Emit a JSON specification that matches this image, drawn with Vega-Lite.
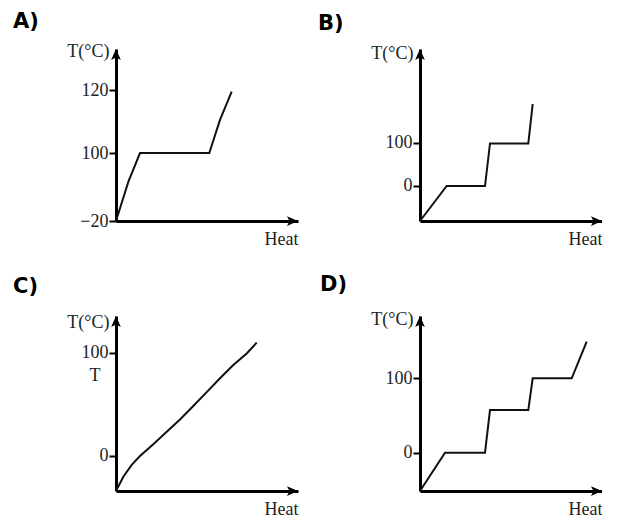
{
  "$schema": "https://vega.github.io/schema/vega-lite/v6.json",
  "padding": {"left": 13, "top": 11, "right": 0, "bottom": 0},
  "background": "white",
  "config": {
    "view": {"stroke": null},
    "font": "Liberation Serif",
    "axis": {
      "grid": false,
      "domainColor": "#000",
      "domainWidth": 3,
      "tickColor": "#000",
      "tickWidth": 2,
      "tickSize": 7,
      "labelFont": "Liberation Serif",
      "labelFontSize": 18,
      "labelColor": "#222",
      "labelPadding": 1,
      "titleFont": "Liberation Serif",
      "titleFontSize": 18,
      "titleFontWeight": "normal",
      "titleColor": "#222"
    },
    "title": {"font": "DejaVu Sans", "fontSize": 21, "fontWeight": "bold", "color": "#000", "anchor": "start", "frame": "group", "baseline": "alphabetic"}
  },
  "columns": 2,
  "spacing": {"row": 95, "column": 122},
  "bounds": "flush",
  "concat": [
    {
      "width": 182, "height": 172,
      "title": {"text": "A)", "dx": -103, "offset": 10},
      "layer": [
        {
          "data": {"values": [
            {"Heat": 0, "T": -20}, {"Heat": 12.3, "T": 49}, {"Heat": 24, "T": 100},
            {"Heat": 93.3, "T": 100}, {"Heat": 104, "T": 110.5}, {"Heat": 115.7, "T": 119.5}
          ]},
          "mark": {"type": "line", "color": "#111", "strokeWidth": 2},
          "encoding": {
            "x": {"field": "Heat", "type": "quantitative", "scale": {"domain": [0, 182], "nice": false, "zero": false},
                  "axis": {"ticks": false, "labels": false, "title": "Heat", "titleX": 182, "titleY": 23, "titleAlign": "right", "titleBaseline": "alphabetic"}},
            "y": {"field": "T", "type": "quantitative", "scale": {"domain": [-20, 100, 120, 133], "range": [172, 104, 41, 0], "nice": false, "zero": false},
                  "axis": {"values": [-20, 100, 120], "title": "T(°C)", "titleAngle": 0, "titleX": -7, "titleY": 7, "titleAlign": "right", "titleBaseline": "alphabetic"}}
          }
        },
        {
          "data": {"values": [{"Heat": 0, "T": 133}]},
          "mark": {"type": "point", "shape": "M0,-1L0.75,0.7L0,0.3L-0.75,0.7Z", "filled": true, "size": 169, "color": "#000", "opacity": 1, "yOffset": 6.5},
          "encoding": {"x": {"field": "Heat", "type": "quantitative"}, "y": {"field": "T", "type": "quantitative"}}
        },
        {
          "data": {"values": [{"Heat": 182, "T": -20}]},
          "mark": {"type": "point", "shape": "M1,0L-0.7,0.75L-0.3,0L-0.7,-0.75Z", "filled": true, "size": 169, "color": "#000", "opacity": 1, "xOffset": -6.5},
          "encoding": {"x": {"field": "Heat", "type": "quantitative"}, "y": {"field": "T", "type": "quantitative"}}
        }
      ]
    },
    {
      "width": 182, "height": 172,
      "title": {"text": "B)", "dx": -102, "offset": 10},
      "layer": [
        {
          "data": {"values": [
            {"Heat": 0, "T": -81.4}, {"Heat": 26.7, "T": 0}, {"Heat": 65, "T": 0},
            {"Heat": 70, "T": 99}, {"Heat": 108.3, "T": 99}, {"Heat": 112.7, "T": 190.7}
          ]},
          "mark": {"type": "line", "color": "#111", "strokeWidth": 2},
          "encoding": {
            "x": {"field": "Heat", "type": "quantitative", "scale": {"domain": [0, 182], "nice": false, "zero": false},
                  "axis": {"ticks": false, "labels": false, "title": "Heat", "titleX": 182, "titleY": 23, "titleAlign": "right", "titleBaseline": "alphabetic"}},
            "y": {"field": "T", "type": "quantitative", "scale": {"domain": [-81.4, 318.6], "nice": false, "zero": false},
                  "axis": {"values": [0, 100], "title": "T(°C)", "titleAngle": 0, "titleX": -7, "titleY": 9, "titleAlign": "right", "titleBaseline": "alphabetic"}}
          }
        },
        {
          "data": {"values": [{"Heat": 0, "T": 318.6}]},
          "mark": {"type": "point", "shape": "M0,-1L0.75,0.7L0,0.3L-0.75,0.7Z", "filled": true, "size": 169, "color": "#000", "opacity": 1, "yOffset": 6.5},
          "encoding": {"x": {"field": "Heat", "type": "quantitative"}, "y": {"field": "T", "type": "quantitative"}}
        },
        {
          "data": {"values": [{"Heat": 182, "T": -81.4}]},
          "mark": {"type": "point", "shape": "M1,0L-0.7,0.75L-0.3,0L-0.7,-0.75Z", "filled": true, "size": 169, "color": "#000", "opacity": 1, "xOffset": -6.5},
          "encoding": {"x": {"field": "Heat", "type": "quantitative"}, "y": {"field": "T", "type": "quantitative"}}
        }
      ]
    },
    {
      "width": 182, "height": 175,
      "title": {"text": "C)", "dx": -103, "offset": 16},
      "layer": [
        {
          "data": {"values": [
            {"Heat": 0, "T": -34}, {"Heat": 7.3, "T": -20.1}, {"Heat": 15.7, "T": -8.7},
            {"Heat": 24, "T": 0}, {"Heat": 37.3, "T": 11.5}, {"Heat": 50.7, "T": 23.5},
            {"Heat": 64, "T": 35.5}, {"Heat": 77.3, "T": 48.5}, {"Heat": 90.7, "T": 62},
            {"Heat": 104, "T": 75.4}, {"Heat": 117.3, "T": 88.3}, {"Heat": 130.7, "T": 99.5},
            {"Heat": 140.7, "T": 110}
          ]},
          "mark": {"type": "line", "color": "#111", "strokeWidth": 2},
          "encoding": {
            "x": {"field": "Heat", "type": "quantitative", "scale": {"domain": [0, 182], "nice": false, "zero": false},
                  "axis": {"ticks": false, "labels": false, "title": "Heat", "titleX": 182, "titleY": 23, "titleAlign": "right", "titleBaseline": "alphabetic"}},
            "y": {"field": "T", "type": "quantitative", "scale": {"domain": [-34, 135.9], "nice": false, "zero": false},
                  "axis": {"values": [0, 100], "title": "T(°C)", "titleAngle": 0, "titleX": -7, "titleY": 11, "titleAlign": "right", "titleBaseline": "alphabetic"}}
          }
        },
        {
          "data": {"values": [{"Heat": 0, "T": 78, "label": "T"}]},
          "mark": {"type": "text", "font": "Liberation Serif", "fontSize": 18, "color": "#222", "dx": -21, "align": "center", "baseline": "middle"},
          "encoding": {"x": {"field": "Heat", "type": "quantitative"}, "y": {"field": "T", "type": "quantitative"}, "text": {"field": "label"}}
        },
        {
          "data": {"values": [{"Heat": 0, "T": 135.9}]},
          "mark": {"type": "point", "shape": "M0,-1L0.75,0.7L0,0.3L-0.75,0.7Z", "filled": true, "size": 169, "color": "#000", "opacity": 1, "yOffset": 6.5},
          "encoding": {"x": {"field": "Heat", "type": "quantitative"}, "y": {"field": "T", "type": "quantitative"}}
        },
        {
          "data": {"values": [{"Heat": 182, "T": -34}]},
          "mark": {"type": "point", "shape": "M1,0L-0.7,0.75L-0.3,0L-0.7,-0.75Z", "filled": true, "size": 169, "color": "#000", "opacity": 1, "xOffset": -6.5},
          "encoding": {"x": {"field": "Heat", "type": "quantitative"}, "y": {"field": "T", "type": "quantitative"}}
        }
      ]
    },
    {
      "width": 182, "height": 175,
      "title": {"text": "D)", "dx": -100, "offset": 15},
      "layer": [
        {
          "data": {"values": [
            {"Heat": 0, "T": -51.5}, {"Heat": 25, "T": 0}, {"Heat": 65, "T": 0},
            {"Heat": 70, "T": 57.3}, {"Heat": 108.3, "T": 57.3}, {"Heat": 112.7, "T": 100},
            {"Heat": 151.7, "T": 100}, {"Heat": 166.7, "T": 149.3}
          ]},
          "mark": {"type": "line", "color": "#111", "strokeWidth": 2},
          "encoding": {
            "x": {"field": "Heat", "type": "quantitative", "scale": {"domain": [0, 182], "nice": false, "zero": false},
                  "axis": {"ticks": false, "labels": false, "title": "Heat", "titleX": 182, "titleY": 23, "titleAlign": "right", "titleBaseline": "alphabetic"}},
            "y": {"field": "T", "type": "quantitative", "scale": {"domain": [-51.5, 183.7], "nice": false, "zero": false},
                  "axis": {"values": [0, 100], "title": "T(°C)", "titleAngle": 0, "titleX": -7, "titleY": 8, "titleAlign": "right", "titleBaseline": "alphabetic"}}
          }
        },
        {
          "data": {"values": [{"Heat": 0, "T": 183.7}]},
          "mark": {"type": "point", "shape": "M0,-1L0.75,0.7L0,0.3L-0.75,0.7Z", "filled": true, "size": 169, "color": "#000", "opacity": 1, "yOffset": 6.5},
          "encoding": {"x": {"field": "Heat", "type": "quantitative"}, "y": {"field": "T", "type": "quantitative"}}
        },
        {
          "data": {"values": [{"Heat": 182, "T": -51.5}]},
          "mark": {"type": "point", "shape": "M1,0L-0.7,0.75L-0.3,0L-0.7,-0.75Z", "filled": true, "size": 169, "color": "#000", "opacity": 1, "xOffset": -6.5},
          "encoding": {"x": {"field": "Heat", "type": "quantitative"}, "y": {"field": "T", "type": "quantitative"}}
        }
      ]
    }
  ]
}
